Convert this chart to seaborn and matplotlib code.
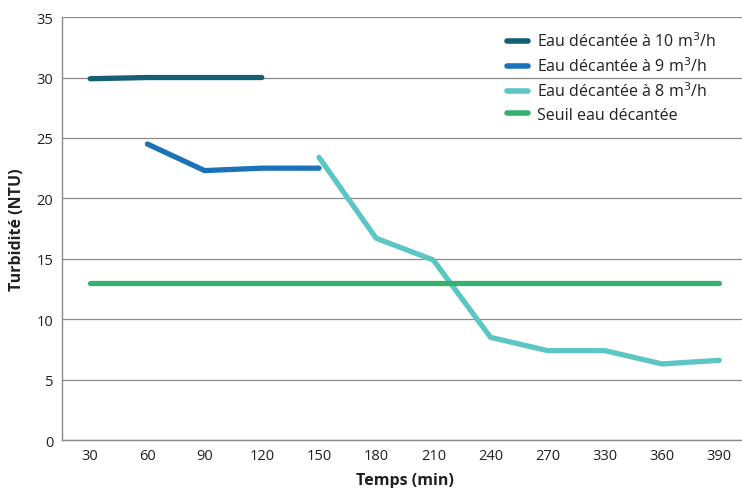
import pandas as pd
import matplotlib.pyplot as plt
import seaborn as sns

temps = ["30", "60", "90", "120", "150", "180", "210", "240", "270", "330", "360", "390"]

t_10 = ["30", "60", "90", "120"]
eau_10 = [29.9, 30.0, 30.0, 30.0]

t_9 = ["60", "90", "120", "150"]
eau_9 = [24.5, 22.3, 22.5, 22.5]

t_8 = ["150", "180", "210", "240", "270", "330", "360", "390"]
eau_8 = [23.4, 16.7, 14.9, 8.5, 7.4, 7.4, 6.3, 6.6]

seuil = [13] * len(temps)

labels = ["Eau décantée à 10 m$^3$/h", "Eau décantée à 9 m$^3$/h",
          "Eau décantée à 8 m$^3$/h", "Seuil eau décantée"]
colors = ["#135f73", "#1a72b8", "#5cc6c4", "#36b26f"]

frames = [
    pd.DataFrame({"Temps": temps, "Turbidite": seuil, "Serie": labels[3]}),
    pd.DataFrame({"Temps": t_10, "Turbidite": eau_10, "Serie": labels[0]}),
    pd.DataFrame({"Temps": t_9, "Turbidite": eau_9, "Serie": labels[1]}),
    pd.DataFrame({"Temps": t_8, "Turbidite": eau_8, "Serie": labels[2]}),
]
data = pd.concat(frames, ignore_index=True)
data["Temps"] = pd.Categorical(data["Temps"], categories=temps, ordered=True)
data["x"] = data["Temps"].cat.codes

sns.set_style("white")
plt.rcParams["font.family"] = ["Open Sans", "DejaVu Sans"]

fig, ax = plt.subplots(figsize=(7.42, 4.89), dpi=100)
fig.subplots_adjust(left=0.083, right=1.008, top=0.963, bottom=0.098)

sns.lineplot(data=data, x="x", y="Turbidite", hue="Serie", hue_order=labels,
             palette=colors, linewidth=3.8, ax=ax, sort=True)
for line in ax.get_lines():
    line.set_solid_capstyle("round")

ax.set_xlim(-0.5, len(temps) - 0.5)
ax.set_xticks(range(len(temps)))
ax.set_xticklabels(temps)
ax.set_ylim(0, 35)
ax.set_yticks(range(0, 36, 5))
ax.yaxis.grid(True, color="#8a8a8a", linewidth=0.9)
ax.set_axisbelow(True)
ax.tick_params(axis="both", length=0, labelsize=10.5, colors="#231f20", pad=6)

for s in ["top", "right"]:
    ax.spines[s].set_visible(False)
for s in ["left", "bottom"]:
    ax.spines[s].set_color("#8a8a8a")
    ax.spines[s].set_linewidth(1.0)

ax.set_xlabel("Temps (min)", fontsize=11.5, fontweight="bold", color="#231f20", labelpad=6)
ax.set_ylabel("Turbidité (NTU)", fontsize=11.5, fontweight="bold", color="#231f20", labelpad=8)

leg = ax.legend(loc="upper right", bbox_to_anchor=(0.975, 1.0), frameon=False,
                fontsize=11.5, handlelength=1.3, labelspacing=0.4, handletextpad=0.6)
for h in leg.get_lines():
    h.set_linewidth(4)
    h.set_solid_capstyle("round")
for t in leg.get_texts():
    t.set_color("#231f20")

fig.savefig("out.png", dpi=100)
